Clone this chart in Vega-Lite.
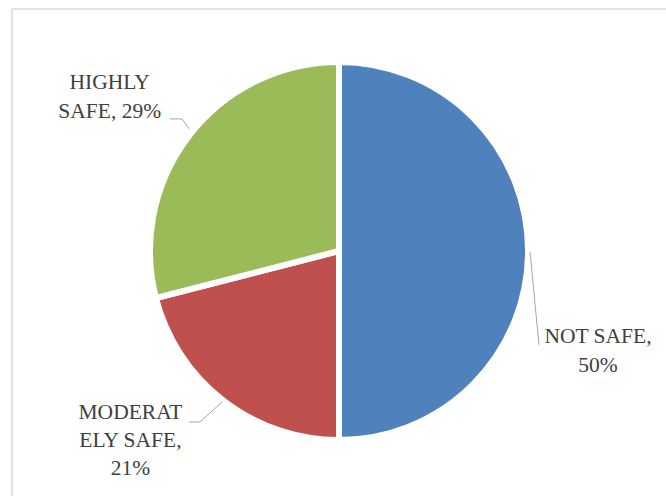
{
  "$schema": "https://vega.github.io/schema/vega-lite/v6.json",
  "width": 654,
  "height": 484,
  "autosize": {"type": "none"},
  "padding": {"left": 12, "top": 9, "right": 0, "bottom": 3},
  "background": "white",
  "config": {"view": {"stroke": null}},
  "datasets": {
    "slices": [
      {"cat": "NOT SAFE", "label": "NOT SAFE,|50%", "value": 50, "rank": 1},
      {"cat": "MODERATELY SAFE", "label": "MODERAT|ELY SAFE,|21%", "value": 21, "rank": 2},
      {"cat": "HIGHLY SAFE", "label": "HIGHLY|SAFE, 29%", "value": 29, "rank": 3}
    ],
    "leaders": [
      {"cat": "HIGHLY SAFE", "step": 1, "u": -0.909, "v": 0.71},
      {"cat": "HIGHLY SAFE", "step": 2, "u": -0.844, "v": 0.71},
      {"cat": "HIGHLY SAFE", "step": 3, "u": -0.806, "v": 0.656},
      {"cat": "NOT SAFE", "step": 1, "u": 1.027, "v": -0.005},
      {"cat": "NOT SAFE", "step": 2, "u": 1.075, "v": -0.505},
      {"cat": "MODERATELY SAFE", "step": 1, "u": -0.806, "v": -0.919},
      {"cat": "MODERATELY SAFE", "step": 2, "u": -0.747, "v": -0.919},
      {"cat": "MODERATELY SAFE", "step": 3, "u": -0.629, "v": -0.812}
    ]
  },
  "layer": [
    {
      "data": {"name": "slices"},
      "mark": {"type": "arc", "outerRadius": 189, "stroke": "white", "strokeWidth": 6},
      "encoding": {
        "theta": {"field": "value", "type": "quantitative", "stack": true},
        "order": {"field": "rank", "type": "quantitative"},
        "color": {
          "field": "cat", "type": "nominal",
          "scale": {"domain": ["NOT SAFE", "MODERATELY SAFE", "HIGHLY SAFE"], "range": ["#4f81bd", "#c0504d", "#9bbb59"]},
          "legend": null
        }
      }
    },
    {
      "data": {"name": "slices"},
      "mark": {"type": "text", "radius": 275, "dx": -16, "dy": 86, "font": "Liberation Serif", "fontSize": 21.5, "color": "#404040", "lineBreak": "|", "lineHeight": 29, "align": "center", "baseline": "middle"},
      "encoding": {
        "theta": {"field": "value", "type": "quantitative", "stack": true},
        "order": {"field": "rank", "type": "quantitative"},
        "detail": {"field": "cat", "type": "nominal"},
        "text": {"condition": {"test": "datum.cat === 'NOT SAFE'", "field": "label"}, "value": ""}
      }
    },
    {
      "data": {"name": "slices"},
      "mark": {"type": "text", "radius": 275, "dx": -40, "dy": -55, "font": "Liberation Serif", "fontSize": 21.5, "color": "#404040", "lineBreak": "|", "lineHeight": 28, "align": "center", "baseline": "middle"},
      "encoding": {
        "theta": {"field": "value", "type": "quantitative", "stack": true},
        "order": {"field": "rank", "type": "quantitative"},
        "detail": {"field": "cat", "type": "nominal"},
        "text": {"condition": {"test": "datum.cat === 'MODERATELY SAFE'", "field": "label"}, "value": ""}
      }
    },
    {
      "data": {"name": "slices"},
      "mark": {"type": "text", "radius": 275, "dx": -12, "dy": 1, "font": "Liberation Serif", "fontSize": 21.5, "color": "#404040", "lineBreak": "|", "lineHeight": 29, "align": "center", "baseline": "middle"},
      "encoding": {
        "theta": {"field": "value", "type": "quantitative", "stack": true},
        "order": {"field": "rank", "type": "quantitative"},
        "detail": {"field": "cat", "type": "nominal"},
        "text": {"condition": {"test": "datum.cat === 'HIGHLY SAFE'", "field": "label"}, "value": ""}
      }
    },
    {
      "data": {"name": "leaders"},
      "mark": {"type": "line", "color": "#a6a6a6", "strokeWidth": 1},
      "encoding": {
        "x": {"field": "u", "type": "quantitative", "scale": {"domain": [-1.758, 1.758], "nice": false, "zero": false}, "axis": null},
        "y": {"field": "v", "type": "quantitative", "scale": {"domain": [-1.301, 1.301], "nice": false, "zero": false}, "axis": null},
        "detail": {"field": "cat", "type": "nominal"},
        "order": {"field": "step", "type": "quantitative"}
      }
    },
    {
      "data": {"values": [{}]},
      "mark": {"type": "rule", "color": "#d9d9d9", "strokeWidth": 1.5, "clip": false},
      "encoding": {
        "y": {"datum": 1.301, "type": "quantitative", "scale": {"domain": [-1.301, 1.301], "nice": false, "zero": false}, "axis": null}
      }
    },
    {
      "data": {"values": [{}]},
      "mark": {"type": "rule", "color": "#d9d9d9", "strokeWidth": 1.5, "clip": false},
      "encoding": {
        "x": {"datum": -1.758, "type": "quantitative", "scale": {"domain": [-1.758, 1.758], "nice": false, "zero": false}, "axis": null},
        "y": {"datum": 1.301, "type": "quantitative", "scale": {"domain": [-1.301, 1.301], "nice": false, "zero": false}, "axis": null},
        "y2": {"datum": -1.34}
      }
    }
  ]
}
